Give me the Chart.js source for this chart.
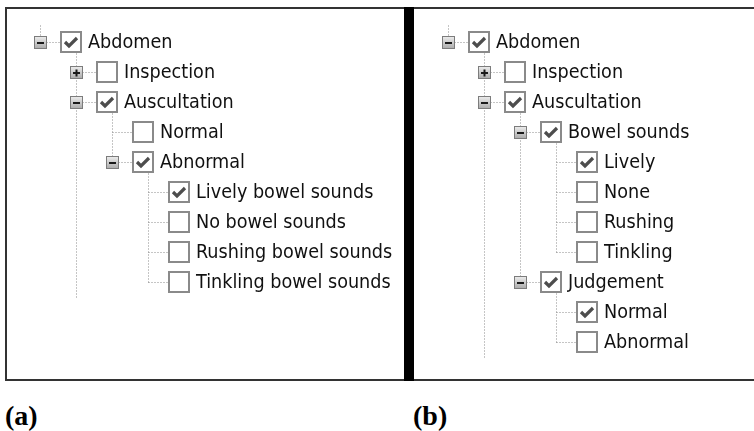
<!DOCTYPE html>
<html>
<head>
<meta charset="utf-8">
<script src="https://cdn.jsdelivr.net/npm/chart.js@4/dist/chart.umd.min.js"></script>
<style>
  html, body { margin: 0; padding: 0; background: #fff; }
  body { width: 754px; height: 431px; position: relative; overflow: hidden; }
  .panel { position: absolute; top: 7px; height: 370px; border-top: 2px solid #333; border-bottom: 2px solid #333; box-sizing: content-box; }
  #panelA { left: 5px; width: 397px; border-left: 2px solid #333; }
  #panelB { left: 414px; width: 340px; }
  #bar { position: absolute; left: 404px; top: 7px; width: 10px; height: 374px; background: #000; }
  .panel canvas { display: block; }
  .cap { position: absolute; top: 400px; font: bold 28px "Liberation Serif", "Times New Roman", serif; color: #000; }
</style>
</head>
<body>
<div id="panelA" class="panel"><canvas id="treeA" width="397" height="370"></canvas></div>
<div id="bar"></div>
<div id="panelB" class="panel"><canvas id="treeB" width="340" height="370"></canvas></div>
<div class="cap" style="left:5px">(a)</div>
<div class="cap" style="left:413px">(b)</div>
<script>
// (a) first version of the tree
const labelsA = ['Abdomen', 'Inspection', 'Auscultation', 'Normal', 'Abnormal',
    'Lively bowel sounds', 'No bowel sounds', 'Rushing bowel sounds', 'Tinkling bowel sounds'];
const levelsA = [0, 1, 1, 2, 2, 3, 3, 3, 3];
const checkedA = [1, 0, 1, 0, 1, 1, 0, 0, 0];
const expandA = ['-', '+', '-', '', '-', '', '', '', ''];

// (b) restructured tree
const labelsB = ['Abdomen', 'Inspection', 'Auscultation', 'Bowel sounds', 'Lively', 'None',
    'Rushing', 'Tinkling', 'Judgement', 'Normal', 'Abnormal'];
const levelsB = [0, 1, 1, 2, 3, 3, 3, 3, 2, 3, 3];
const checkedB = [1, 0, 1, 1, 1, 0, 0, 0, 1, 1, 0];
const expandB = ['-', '+', '-', '-', '', '', '', '', '-', '', ''];

const INDENT = 36, ROW = 30;

const treePlugin = {
    id: 'tree',
    afterDatasetsDraw(chart) {
        const ctx = chart.ctx;
        const pts = chart.getDatasetMeta(0).data;
        const t = chart.config.options.plugins.tree;
        const lv = t.levels;
        const n = lv.length;
        const px = i => Math.round(pts[i].x);
        const py = i => Math.round(pts[i].y);

        ctx.save();
        // dotted connectors
        ctx.strokeStyle = '#8a8a8a';
        ctx.lineWidth = 1;
        ctx.setLineDash([1, 2]);
        const seg = (x1, y1, x2, y2) => {
            ctx.beginPath();
            ctx.moveTo(x1 + 0.5, y1 + 0.5);
            ctx.lineTo(x2 + 0.5, y2 + 0.5);
            ctx.stroke();
        };
        for (let i = 0; i < n; i++) {
            const kids = [];
            for (let j = i + 1; j < n && lv[j] > lv[i]; j++) {
                if (lv[j] === lv[i] + 1) kids.push(j);
            }
            if (kids.length) {
                const lx = px(kids[0]) - 31;
                let yEnd = py(kids[kids.length - 1]);
                if (lv[i] === 0) yEnd = py(n - 1) + 16;
                seg(lx, py(i) + 11, lx, yEnd);
            }
            if (lv[i] === 0) {
                seg(px(i) - 31, py(i) - 17, px(i) - 31, py(i) - 7);
                seg(px(i) - 25, py(i), px(i) - 11, py(i));
            } else {
                seg(px(i) - 31, py(i), px(i) - 11, py(i));
            }
        }
        ctx.setLineDash([]);

        for (let i = 0; i < n; i++) {
            const x = px(i), y = py(i);
            // expander box
            if (t.expand[i]) {
                const ex = x - 31;
                const g = ctx.createLinearGradient(0, y - 6, 0, y + 7);
                g.addColorStop(0, '#f0f0f0');
                g.addColorStop(1, '#a8a8a8');
                ctx.fillStyle = g;
                ctx.fillRect(ex - 6, y - 6, 13, 13);
                ctx.strokeStyle = '#7c7c7c';
                ctx.lineWidth = 1;
                ctx.strokeRect(ex - 5.5, y - 5.5, 12, 12);
                ctx.strokeStyle = '#1a1a1a';
                ctx.lineWidth = 2;
                ctx.beginPath();
                ctx.moveTo(ex - 3, y + 1);
                ctx.lineTo(ex + 4, y + 1);
                if (t.expand[i] === '+') {
                    ctx.moveTo(ex + 0.5, y - 2.5);
                    ctx.lineTo(ex + 0.5, y + 4.5);
                }
                ctx.stroke();
            }
            // checkbox
            ctx.fillStyle = '#fff';
            ctx.fillRect(x - 10, y - 10, 20, 20);
            ctx.strokeStyle = '#8a8a8a';
            ctx.lineWidth = 2;
            ctx.strokeRect(x - 10, y - 10, 20, 20);
            if (t.checked[i]) {
                ctx.strokeStyle = '#4d4d4d';
                ctx.lineWidth = 3.2;
                ctx.lineJoin = 'miter';
                ctx.beginPath();
                ctx.moveTo(x - 6, y);
                ctx.lineTo(x - 2, y + 4);
                ctx.lineTo(x + 6, y - 4);
                ctx.stroke();
            }
            // label
            ctx.fillStyle = '#111';
            ctx.font = '19.6px "DejaVu Sans Condensed", "DejaVu Sans", sans-serif';
            ctx.textBaseline = 'middle';
            ctx.textAlign = 'left';
            ctx.fillText(t.labels[i], x + 17, y + 1);
        }
        ctx.restore();
    }
};

function drawTree(id, labels, levels, checked, expand, x0, y0) {
    const canvas = document.getElementById(id);
    const w = canvas.width, h = canvas.height;
    new Chart(canvas.getContext('2d'), {
        type: 'scatter',
        data: {
            datasets: [{
                data: labels.map((name, i) => ({ x: levels[i], y: i })),
                pointRadius: 0
            }]
        },
        options: {
            responsive: false,
            animation: false,
            events: [],
            layout: { padding: 0 },
            scales: {
                x: { type: 'linear', display: false, min: -x0 / INDENT, max: (w - x0) / INDENT },
                y: { type: 'linear', display: false, reverse: true, min: -y0 / ROW, max: (h - y0) / ROW }
            },
            plugins: {
                legend: { display: false },
                tooltip: { enabled: false },
                tree: { labels: labels, levels: levels, checked: checked, expand: expand }
            }
        },
        plugins: [treePlugin]
    });
}

drawTree('treeA', labelsA, levelsA, checkedA, expandA, 64, 33);
drawTree('treeB', labelsB, levelsB, checkedB, expandB, 65, 33);
</script>
</body>
</html>
